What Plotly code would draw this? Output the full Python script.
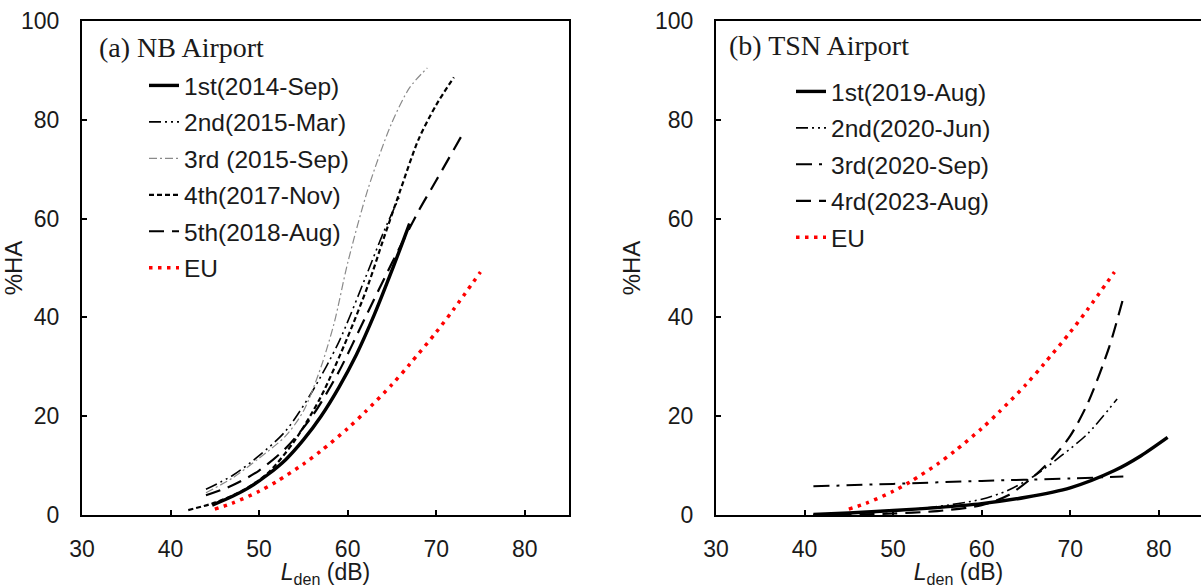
import plotly.graph_objects as go

W, H = 1201, 588

# ---------------- data: (a) NB Airport ----------------
nb_1st_x = [44.7, 47, 49, 51, 53, 55, 57, 59, 61, 63, 65, 67]
nb_1st_y = [2.0, 3.8, 5.7, 8.2, 11.2, 15.2, 20.0, 25.8, 32.5, 40.5, 49.5, 59.0]

nb_2nd_x = [44, 47, 50, 53, 56, 59, 62, 64, 66]
nb_2nd_y = [5.2, 8.0, 12.0, 17.0, 25.0, 35.0, 48.0, 57.0, 65.0]

nb_3rd_x = [44, 47, 50, 53, 55, 57, 58.5, 60, 62.3, 64.9, 67, 69]
nb_3rd_y = [4.5, 7.5, 11.5, 16.0, 21.0, 30.0, 39.0, 51.0, 66.0, 79.0, 86.5, 90.5]

nb_4th_x = [42, 45, 48, 51, 54, 57, 60, 62.3, 64, 66, 68, 70, 72]
nb_4th_y = [1.0, 2.5, 4.8, 8.5, 15.0, 24.0, 36.0, 46.5, 55.6, 66.0, 76.0, 83.0, 88.6]

nb_5th_x = [44, 47, 50, 53, 56, 59, 62, 65, 68, 70, 73.2]
nb_5th_y = [4.0, 6.0, 9.0, 13.5, 20.0, 29.0, 40.0, 51.0, 61.5, 67.7, 77.8]

eu_x = [45, 47, 50, 52, 55, 57, 60, 62, 65, 67, 70, 72, 75]
eu_y = [1.2, 2.4, 4.8, 6.8, 10.3, 13.0, 17.5, 20.9, 26.4, 30.5, 37.0, 41.7, 49.2]

# ---------------- data: (b) TSN Airport ----------------
tsn_1st_x = [41, 45, 50, 55, 60, 65, 70, 75, 78, 81]
tsn_1st_y = [0.1, 0.4, 0.9, 1.5, 2.3, 3.6, 5.5, 9.0, 12.0, 15.7]

tsn_2nd_x = [41, 45, 50, 55, 60, 63, 66, 69, 72, 75.3]
tsn_2nd_y = [0.1, 0.3, 0.8, 1.7, 3.2, 5.0, 8.0, 12.0, 16.5, 23.5]

tsn_3rd_x = [41, 50, 60, 70, 76]
tsn_3rd_y = [5.8, 6.3, 6.9, 7.4, 7.8]

tsn_4th_x = [41, 50, 55, 60, 63, 66, 68, 70, 72, 74.4, 76]
tsn_4th_y = [0.0, 0.3, 0.8, 2.0, 4.0, 8.0, 11.5, 16.0, 22.7, 34.0, 44.0]

nb_names = ["1st(2014-Sep)", "2nd(2015-Mar)", "3rd (2015-Sep)",
            "4th(2017-Nov)", "5th(2018-Aug)", "EU"]
tsn_names = ["1st(2019-Aug)", "2nd(2020-Jun)", "3rd(2020-Sep)",
             "4rd(2023-Aug)", "EU"]

x_ticks = [30, 40, 50, 60, 70, 80]
y_ticks = [0, 20, 40, 60, 80, 100]

# ---------------- styles ----------------
S_SOLID = dict(color="black", width=3.4, dash="solid")
S_DDOT = dict(color="black", width=1.6, dash="12px,4px,2px,4px,2px,4px")
S_GRAY = dict(color="#8a8a8a", width=1.2, dash="8px,3px,2px,3px")
S_SHORT = dict(color="black", width=2.2, dash="5px,3px")
S_LONG = dict(color="black", width=2.2, dash="15px,8px")
S_DASHDOT = dict(color="black", width=2.0, dash="16px,7px,3px,7px")
S_EU = dict(color="#ff0000", width=3.5, dash="3.5px,5.5px")

fig = go.Figure()

def add(x, y, name, style, xa, ya, leg, grp):
    fig.add_trace(go.Scatter(
        x=x, y=y, name=name, mode="lines", line=dict(**style, shape="spline", smoothing=0.8),
        xaxis=xa, yaxis=ya, legend=leg, legendgroup=grp, hoverinfo="skip"))

nb_series = [(nb_1st_x, nb_1st_y, S_SOLID), (nb_2nd_x, nb_2nd_y, S_DDOT),
             (nb_3rd_x, nb_3rd_y, S_GRAY), (nb_4th_x, nb_4th_y, S_SHORT),
             (nb_5th_x, nb_5th_y, S_LONG), (eu_x, eu_y, S_EU)]
for i, ((x, y, st), nm) in enumerate(zip(nb_series, nb_names)):
    add(x, y, nm, st, "x", "y", "legend", f"a{i}")

tsn_series = [(tsn_1st_x, tsn_1st_y, S_SOLID), (tsn_2nd_x, tsn_2nd_y, S_DDOT),
              (tsn_3rd_x, tsn_3rd_y, S_DASHDOT), (tsn_4th_x, tsn_4th_y, S_LONG),
              (eu_x, eu_y, S_EU)]
for i, ((x, y, st), nm) in enumerate(zip(tsn_series, tsn_names)):
    add(x, y, nm, st, "x2", "y2", "legend2", f"b{i}")

FONT = "Liberation Sans, Arial, sans-serif"
TXT = "#1a1a1a"

ydom = [1 - 515 / H, 1 - 21 / H]
common_x = dict(tickvals=x_ticks, ticks="inside", ticklen=5, tickwidth=1.5, tickcolor="black",
                showline=True, linecolor="black", linewidth=2, showgrid=False, zeroline=False,
                automargin=False,
                tickfont=dict(family=FONT, size=23, color=TXT), ticklabelstandoff=12,
                title=dict(text="<i>L</i><sub>den</sub> (dB)", font=dict(family=FONT, size=23, color=TXT),
                           standoff=2))
common_y = dict(tickvals=y_ticks, range=[0, 100], ticks="inside", ticklen=5, tickwidth=1.5,
                tickcolor="black", showline=True, linecolor="black", linewidth=2,
                showgrid=False, zeroline=False, automargin=False,
                tickfont=dict(family=FONT, size=23, color=TXT), ticklabelstandoff=16,
                title=dict(text="%HA", font=dict(family=FONT, size=24, color=TXT), standoff=8))

fig.update_layout(
    width=W, height=H, margin=dict(l=0, r=0, t=0, b=0, autoexpand=False),
    paper_bgcolor="white", plot_bgcolor="white",
    xaxis=dict(domain=[82 / W, 569 / W], range=[30, 85], mirror=True, anchor="y", **common_x),
    yaxis=dict(domain=ydom, mirror=True, anchor="x", **common_y),
    xaxis2=dict(domain=[716 / W, 1.0], range=[30, 30 + (W - 716) / 8.855], mirror=True,
                anchor="y2", **common_x),
    yaxis2=dict(domain=ydom, mirror=False, anchor="x2", **common_y),
    legend=dict(x=(186 - 42) / W, y=1 - 63 / H, xanchor="left", yanchor="top",
                bgcolor="rgba(0,0,0,0)", traceorder="grouped", tracegroupgap=1.6,
                font=dict(family=FONT, size=24.5, color=TXT)),
    legend2=dict(x=(833 - 42) / W, y=1 - 69 / H, xanchor="left", yanchor="top",
                 bgcolor="rgba(0,0,0,0)", traceorder="grouped", tracegroupgap=1.6,
                 font=dict(family=FONT, size=24.5, color=TXT)),
    annotations=[
        dict(text="(a) NB Airport", x=97 / W, y=1 - 47 / H, xref="paper", yref="paper",
             xanchor="left", yanchor="middle", showarrow=False,
             font=dict(family="Liberation Serif, Times New Roman, serif", size=28, color=TXT)),
        dict(text="(b) TSN Airport", x=727 / W, y=1 - 46 / H, xref="paper", yref="paper",
             xanchor="left", yanchor="middle", showarrow=False,
             font=dict(family="Liberation Serif, Times New Roman, serif", size=28, color=TXT)),
    ],
    showlegend=True,
)

fig.write_html("out.html")
